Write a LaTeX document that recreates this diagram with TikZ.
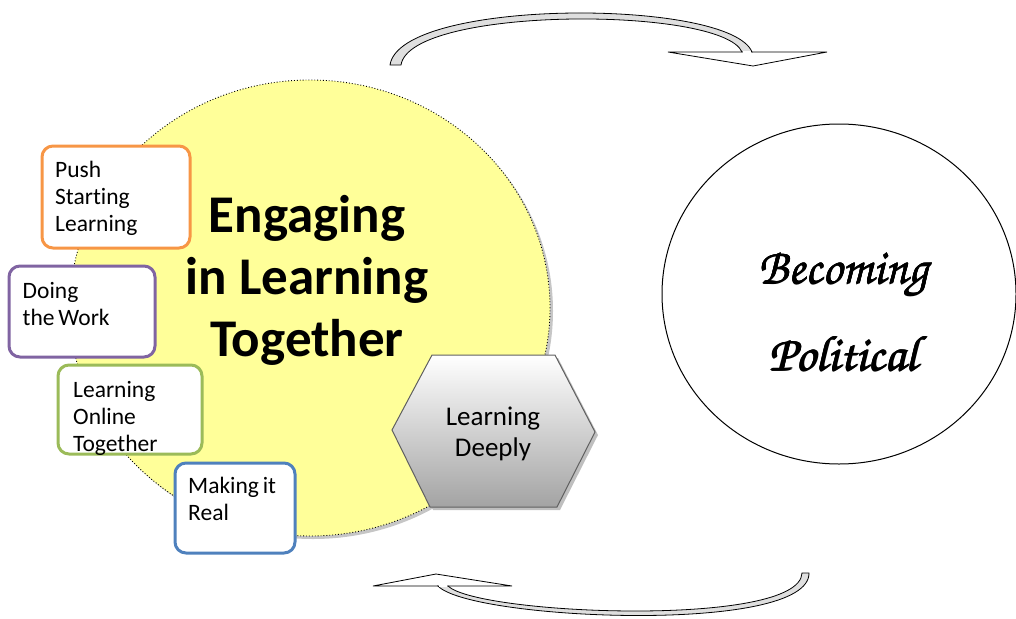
\documentclass[tikz,border=0pt]{standalone}
\usepackage[T1,TU]{fontenc}
\usepackage{fontspec}
\setmainfont[Ligatures=NoCommon]{Carlito}
\usetikzlibrary{shapes.geometric}
\definecolor{cyellow}{HTML}{FFFF99}
\definecolor{corange}{HTML}{F79646}
\definecolor{cpurple}{HTML}{8064A2}
\definecolor{cgreen}{HTML}{9BBB59}
\definecolor{cblue}{HTML}{4F81BD}
\newcommand{\myscriptfont}{\usefont{T1}{pzc}{mb}{it}}
\newcommand{\fbold}[1]{\leavevmode\rlap{\kern0.9pt#1}\rlap{\kern0.45pt\raisebox{0.6pt}{#1}}\rlap{\kern0.45pt\raisebox{-0.4pt}{#1}}#1}
\tikzset{
  topicbox/.style={draw=#1, line width=3pt, rounded corners=11pt, fill=white, inner sep=0pt},
  topictext/.style={anchor=north west, align=left, inner sep=0pt, font=\fontsize{23.5}{27}\selectfont},
  bandline/.style={draw=black, line width=0.8pt, fill=gray!25},
  headline/.style={draw=black, line width=0.8pt, fill=white, line join=miter},
}
\begin{document}
\begin{tikzpicture}[x=1pt,y=-1pt]
\useasboundingbox (0,0) rectangle (1016,618);
% yellow circle
\fill[gray!45] (313,311) ellipse [x radius=240pt, y radius=228pt];
\node (eng) [ellipse, draw=black, dotted, line width=0.9pt, fill=cyellow,
  minimum width=480pt, minimum height=456pt, inner sep=0pt] at (310,308) {};
\node (title) [align=center, font=\fontsize{53}{62}\selectfont\bfseries] at (307,280)
  {Engaging\\in Learning\\Together};
% topic boxes
\node (pushbox) [topicbox=corange, minimum width=148pt, minimum height=102pt] at (116,197) {};
\node (pusht) [topictext] at (55,161) {Push\\Starting\\Learning};
\node (doingbox) [topicbox=cpurple, minimum width=146pt, minimum height=91pt] at (82,311.5) {};
\node (doingt) [topictext] at (22.5,282) {Doing\\the\kern-1.5pt\ Work};
\node (onlinebox) [topicbox=cgreen, minimum width=144pt, minimum height=89pt] at (130,409.5) {};
\node (onlinet) [topictext] at (73,381) {Learning\\Online\\Together};
\node (realbox) [topicbox=cblue, minimum width=120pt, minimum height=90pt] at (235,508) {};
\node (realt) [topictext] at (188,477) {Making\kern-1.5pt\ it\\Real};
% hexagon
\fill[gray!50] (395,433) -- (435,358) -- (558,358) -- (598,435) -- (560,510) -- (433,510) -- cycle;
\shade[top color=white, bottom color=gray!72, draw=gray!75!black, line width=1pt]
  (392,430) -- (432,355) -- (555,355) -- (595,432) -- (557,507) -- (430,507) -- cycle;
\node (deep) [align=center, font=\fontsize{27}{31}\selectfont] at (493,434) {Learning\\Deeply};
% right circle
\node (pol) [ellipse, draw=black, line width=1pt, minimum width=354pt, minimum height=340pt,
  inner sep=0pt] at (839,294) {};
\node (polt) [align=center, font=\fontsize{50}{87}\myscriptfont] at (843,311) {\fbold{Becoming}\\\fbold{Political}};
% top arrow
\path[headline] (752,52) -- (827,52) -- (753,66) -- (668,52) -- (742,52);
\path[bandline] (390,65) .. controls (400,-2) and (730,-2) .. (752,52)
  -- (742,52) .. controls (722,6) and (410,6) .. (401,65) -- cycle;
\fill[white] (743,51.2) rectangle (751,52.8);
% bottom arrow
\path[headline] (448,586) -- (512,586) -- (436,574) -- (373,586) -- (438,586);
\path[bandline] (809,573) .. controls (810,635) and (470,620) .. (438,586)
  -- (448,586) .. controls (478,615) and (800,628) .. (802,573) -- cycle;
\fill[white] (439,585.2) rectangle (447,586.8);
\end{tikzpicture}
\end{document}
